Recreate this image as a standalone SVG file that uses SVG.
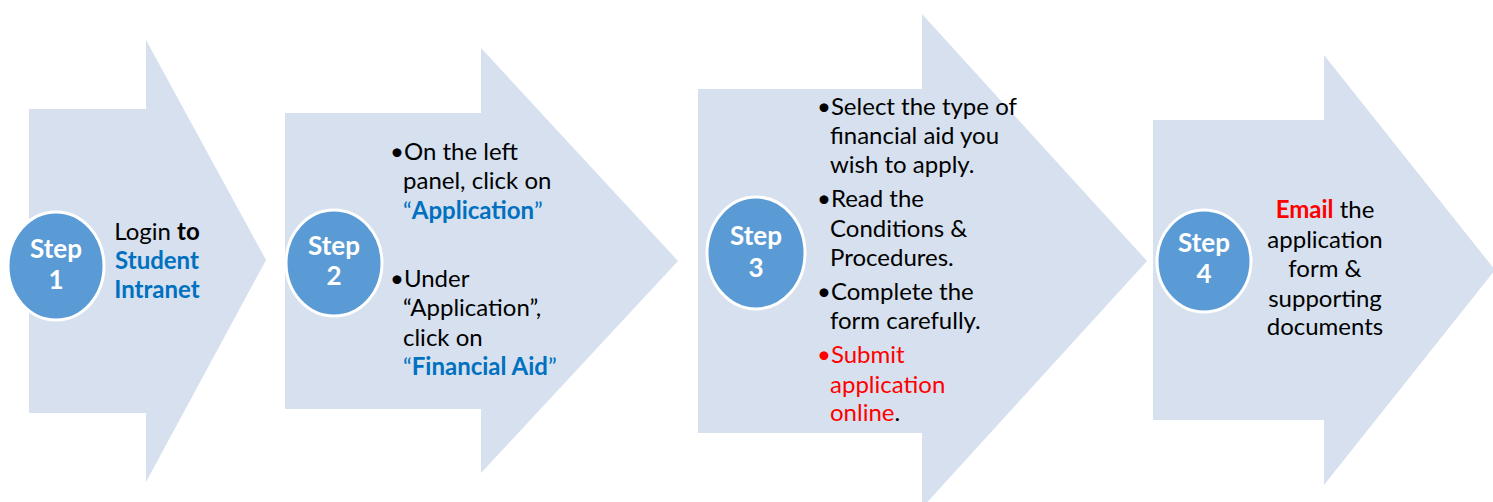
<svg xmlns="http://www.w3.org/2000/svg" width="1493" height="502" viewBox="0 0 1493 502">
<style>
.arrow{fill:#D6E0EE}
.circ{fill:#5B9BD5;stroke:#FFFFFF;stroke-width:3}
.st{font-family:Lato,"Open Sans","Liberation Sans",sans-serif;font-size:26px;font-weight:bold;fill:#FFFFFF;text-anchor:middle}
.t{font-family:Lato,"Open Sans","Liberation Sans",sans-serif;font-size:24px;fill:#000000}
.c{text-anchor:middle}
.b{font-weight:bold}
.blue{fill:#0070C0}
.red{fill:#FF0000}
</style>
<rect width="1493" height="502" fill="#FFFFFF"/>
<g id="step1">
<polygon class="arrow" points="29,109 146,109 146,40 266,260 146,482 146,413 29,413"/>
<ellipse class="circ" cx="56" cy="266" rx="48" ry="54"/>
<text class="st" x="56" y="258">Step</text>
<text class="st" x="56" y="289">1</text>
<text class="t c" x="157" y="240">Login <tspan class="b">to</tspan></text>
<text class="t c b blue" x="157" y="269">Student</text>
<text class="t c b blue" x="157" y="298">Intranet</text>
</g>
<g id="step2">
<polygon class="arrow" points="285,113 481,113 481,48 678,261 481,473 481,409 285,409"/>
<ellipse class="circ" cx="334" cy="263" rx="48" ry="53"/>
<text class="st" x="334" y="255">Step</text>
<text class="st" x="334" y="285">2</text>
<text class="t" x="390" y="160">•On the left</text>
<text class="t" x="403" y="189">panel, click on</text>
<text class="t blue" x="403" y="219">“<tspan class="b">Application</tspan>”</text>
<text class="t" x="390" y="287">•Under</text>
<text class="t" x="403" y="316">“Application”,</text>
<text class="t" x="403" y="346">click on</text>
<text class="t blue" x="403" y="375">“<tspan class="b">Financial Aid</tspan>”</text>
</g>
<g id="step3">
<polygon class="arrow" points="698,89 922,89 922,14 1147,261 922,508 922,433 698,433"/>
<ellipse class="circ" cx="756" cy="253" rx="49" ry="56"/>
<text class="st" x="756" y="245">Step</text>
<text class="st" x="756" y="277">3</text>
<text class="t" x="817" y="115">•Select the type of</text>
<text class="t" x="830" y="144">financial aid you</text>
<text class="t" x="830" y="173">wish to apply.</text>
<text class="t" x="817" y="207">•Read the</text>
<text class="t" x="830" y="237">Conditions &amp;</text>
<text class="t" x="830" y="266">Procedures.</text>
<text class="t" x="817" y="300">•Complete the</text>
<text class="t" x="830" y="329">form carefully.</text>
<text class="t red" x="817" y="363">•Submit</text>
<text class="t red" x="830" y="393">application</text>
<text class="t" x="830" y="421"><tspan class="red">online</tspan>.</text>
</g>
<g id="step4">
<polygon class="arrow" points="1153,120 1324,120 1324,55 1495,270 1324,485 1324,420 1153,420"/>
<ellipse class="circ" cx="1204" cy="261" rx="47" ry="51"/>
<text class="st" x="1204" y="252">Step</text>
<text class="st" x="1204" y="283">4</text>
<text class="t c" x="1325" y="218"><tspan class="b red">Email</tspan> the</text>
<text class="t c" x="1325" y="248">application</text>
<text class="t c" x="1325" y="277">form &amp;</text>
<text class="t c" x="1325" y="307">supporting</text>
<text class="t c" x="1325" y="335">documents</text>
</g>
<g id="connectors"/>
</svg>
